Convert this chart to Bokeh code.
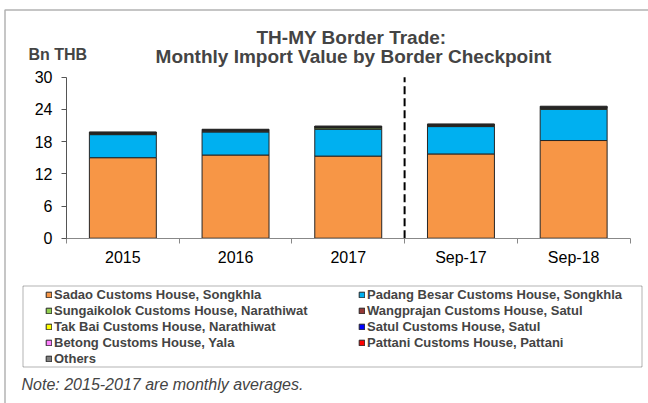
from bokeh.plotting import figure
from bokeh.models import (ColumnDataSource, FixedTicker, Label, Legend, LegendItem,
                          BoxAnnotation, LinearAxis, Range1d)
from bokeh.embed import file_html
from bokeh.resources import INLINE

# ---------------- data ----------------
periods = ["2015", "2016", "2017", "Sep-17", "Sep-18"]
checkpoints = [
    "Sadao Customs House, Songkhla",
    "Padang Besar Customs House, Songkhla",
    "Sungaikolok Customs House, Narathiwat",
    "Wangprajan Customs House, Satul",
    "Tak Bai Customs House, Narathiwat",
    "Satul Customs House, Satul",
    "Betong Customs House, Yala",
    "Pattani Customs House, Pattani",
    "Others",
]
sadao = [15.0, 15.5, 15.3, 15.7, 18.2]
padang_besar = [4.3, 4.3, 5.0, 5.1, 5.8]
sungaikolok = [0.15, 0.15, 0.25, 0.15, 0.2]
wangprajan = [0.1, 0.1, 0.1, 0.1, 0.1]
tak_bai = [0.06, 0.06, 0.06, 0.05, 0.05]
satul = [0.05, 0.05, 0.05, 0.05, 0.05]
betong = [0.03, 0.03, 0.03, 0.03, 0.03]
pattani = [0.01, 0.01, 0.01, 0.01, 0.01]
others = [0.1, 0.1, 0.1, 0.1, 0.15]
y_ticks = [0, 6, 12, 18, 24, 30]
colors = ["#F79646", "#00B0F0", "#92D050", "#953735", "#FFFF00",
          "#0000FF", "#FF80FF", "#FF0000", "#808080"]

series = [sadao, padang_besar, sungaikolok, wangprajan, tak_bai,
          satul, betong, pattani, others]
keys = ["s%d" % i for i in range(len(series))]
data = {k: v for k, v in zip(keys, series)}
data["x"] = [i + 0.5 for i in range(len(periods))]
source = ColumnDataSource(data)

FONT = "Liberation Sans"
W, H = 648, 403
# plot-area geometry on the canvas (pixels)
FL, FR, FT, FB = 66, 629.5, 76.7, 237.7
n = len(periods)
ymax = y_ticks[-1]
PX = (FR - FL) / n
PY = (FB - FT) / ymax


def X(px):
    return (px - FL) / PX


def Y(py):
    return (FB - py) / PY


p = figure(width=W, height=H, output_backend="svg", toolbar_location=None,
           x_range=Range1d(X(0), X(W)), y_range=Range1d(Y(H), Y(0)),
           x_axis_location=None, y_axis_location=None, min_border=0)
p.outline_line_color = None
p.xgrid.visible = False
p.ygrid.visible = False
p.background_fill_color = "white"
p.border_fill_color = "white"

renderers = p.vbar_stack(keys, x="x", width=0.594, color=colors, source=source,
                         line_color="#262626", line_width=1)

# y axis
yaxis = LinearAxis(fixed_location=0, bounds=(0, ymax),
                   ticker=FixedTicker(ticks=y_ticks, minor_ticks=[]))
yaxis.axis_line_color = "#555555"
yaxis.major_tick_line_color = "#555555"
yaxis.major_tick_out = 5
yaxis.major_tick_in = 0
yaxis.minor_tick_line_color = None
yaxis.major_label_standoff = 9
yaxis.major_label_text_font = FONT
yaxis.major_label_text_font_size = "16px"
yaxis.major_label_text_color = "black"
p.add_layout(yaxis, "left")

# x axis: labels at centres, ticks at category boundaries
xaxis = LinearAxis(fixed_location=0, bounds=(0, n),
                   ticker=FixedTicker(ticks=data["x"], minor_ticks=list(range(n + 1))))
xaxis.major_label_overrides = {xv: lab for xv, lab in zip(data["x"], periods)}
xaxis.axis_line_color = "#888888"
xaxis.major_tick_line_color = None
xaxis.major_tick_out = 0
xaxis.major_tick_in = 0
xaxis.minor_tick_line_color = "#888888"
xaxis.minor_tick_out = 5
xaxis.minor_tick_in = 0
xaxis.major_label_standoff = 6
xaxis.major_label_text_font = FONT
xaxis.major_label_text_font_size = "16px"
xaxis.major_label_text_color = "black"
p.add_layout(xaxis, "below")

# dashed divider between annual averages and monthly data
div_x = periods.index("Sep-17")
p.segment(x0=[div_x], y0=[y_ticks[0]], x1=[div_x], y1=[ymax],
          line_color="black", line_width=2, line_dash="8 4")

# titles and notes
p.add_layout(Label(x=X(351), y=Y(37), text="TH-MY Border Trade:",
                   text_align="center", text_baseline="middle", text_font=FONT,
                   text_font_style="bold", text_font_size="19px"))
p.add_layout(Label(x=X(353), y=Y(56),
                   text="Monthly Import Value by Border Checkpoint",
                   text_align="center", text_baseline="middle", text_font=FONT,
                   text_font_style="bold", text_font_size="19px"))
p.add_layout(Label(x=X(28), y=Y(54), text="Bn THB", text_align="left",
                   text_baseline="middle", text_font=FONT,
                   text_font_style="bold", text_font_size="16px"))
p.add_layout(Label(x=X(21), y=Y(384),
                   text="Note: 2015-2017 are monthly averages.",
                   text_align="left", text_baseline="middle", text_font=FONT,
                   text_font_style="italic", text_font_size="16px"))

# outer chart border and legend box
p.add_layout(BoxAnnotation(left=X(4.5), right=X(900), top=Y(9.5), bottom=Y(700),
                           fill_alpha=0, line_color="black", line_width=1.5))
p.add_layout(BoxAnnotation(left=X(22.5), right=X(641.5), top=Y(285.5), bottom=Y(366.5),
                           fill_alpha=0, line_color="black", line_width=1))


def make_legend(idx, loc):
    leg = Legend(items=[LegendItem(label=checkpoints[i], renderers=[renderers[i]])
                        for i in idx],
                 location=loc, orientation="vertical")
    leg.border_line_color = None
    leg.background_fill_alpha = 0
    leg.label_text_font = FONT
    leg.label_text_font_style = "bold"
    leg.label_text_font_size = "13px"
    leg.label_height = 12
    leg.glyph_height = 7
    leg.glyph_width = 7
    leg.label_standoff = 2
    leg.spacing = 1
    leg.padding = 3
    leg.margin = 0
    return leg


# legend locations: bottom-left corner in pixels from the canvas bottom-left
p.add_layout(make_legend([0, 2, 4, 6, 8], (48 - 3, H - 365.5)))
p.add_layout(make_legend([1, 3, 5, 7], (361 - 3, H - 349.5)))

open("out.html", "w").write(file_html(p, INLINE))
